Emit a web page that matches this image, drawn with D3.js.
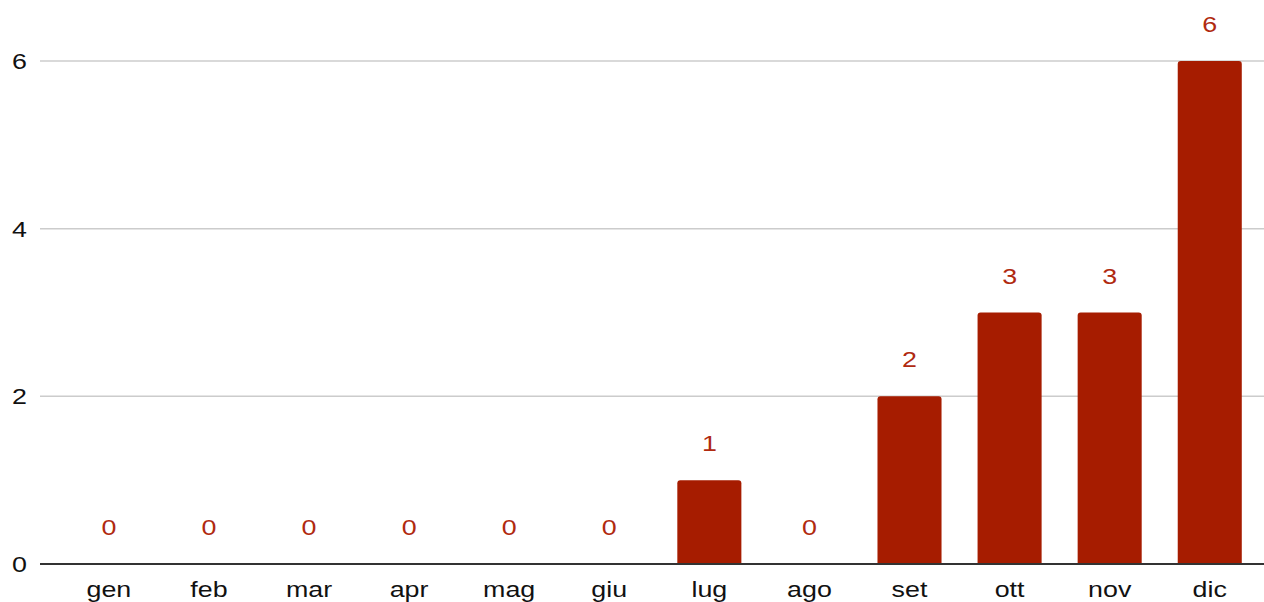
<!DOCTYPE html>
<html>
<head>
<meta charset="utf-8">
<script src="https://cdn.jsdelivr.net/npm/d3@7"></script>
<style>
	body { margin: 0; background: #fff; }
	svg { display: block; font-family: Arial, "Liberation Sans", sans-serif; }
</style>
</head>
<body>
<svg id="chart"></svg>
<script>
var months = ["gen", "feb", "mar", "apr", "mag", "giu", "lug", "ago", "set", "ott", "nov", "dic"];
var counts = [0, 0, 0, 0, 0, 0, 1, 0, 2, 3, 3, 6];
var yTicks = [0, 2, 4, 6];

var width = 1264, height = 602;
var color = "#a61c00";
// the text in the reference is stretched a bit horizontally
var stretch = 1.22;

var svg = d3.select("#chart")
	.attr("width", width)
	.attr("height", height);

var x = d3.scaleBand()
	.domain(months)
	.range([58.8, 1259.8])
	.paddingInner(0.36)
	.paddingOuter(0.18);

var y = d3.scaleLinear()
	.domain([0, 6])
	.range([564, 61]);

function place(px, py) {
	return "translate(" + px + "," + py + ") scale(" + stretch + ",1)";
}

// gridlines
svg.append("g")
	.selectAll("line")
	.data(yTicks.filter(function(d) { return d > 0; }))
	.join("line")
		.attr("x1", 40)
		.attr("x2", width)
		.attr("y1", function(d) { return y(d); })
		.attr("y2", function(d) { return y(d); })
		.style("stroke", "#cccccc")
		.style("stroke-width", "1.5px");

// y tick labels
svg.append("g")
	.selectAll("text")
	.data(yTicks)
	.join("text")
		.attr("transform", function(d) { return place(27, y(d)); })
		.attr("dy", "0.36em")
		.attr("text-anchor", "end")
		.style("font-size", "22px")
		.style("fill", "#111")
		.text(function(d) { return d; });

// bars with rounded top corners
var r = 3;
svg.append("g")
	.selectAll("path")
	.data(counts.map(function(v, i) { return { m: months[i], v: v }; }).filter(function(d) { return d.v > 0; }))
	.join("path")
		.attr("d", function(d) {
			var x0 = x(d.m), x1 = x0 + x.bandwidth(), y0 = y(0), y1 = y(d.v);
			return "M" + x0 + "," + y0 +
				"V" + (y1 + r) +
				"Q" + x0 + "," + y1 + " " + (x0 + r) + "," + y1 +
				"H" + (x1 - r) +
				"Q" + x1 + "," + y1 + " " + x1 + "," + (y1 + r) +
				"V" + y0 + "Z";
		})
		.style("fill", color);

// value labels
svg.append("g")
	.selectAll("text")
	.data(counts)
	.join("text")
		.attr("transform", function(d, i) { return place(x(months[i]) + x.bandwidth() / 2, y(d) - 29); })
		.attr("text-anchor", "middle")
		.style("font-size", "22px")
		.style("fill", "#b02a10")
		.text(function(d) { return d; });

// baseline
svg.append("line")
	.attr("x1", 40)
	.attr("x2", width)
	.attr("y1", y(0))
	.attr("y2", y(0))
	.style("stroke", "#333")
	.style("stroke-width", "2px");

// x labels
svg.append("g")
	.selectAll("text")
	.data(months)
	.join("text")
		.attr("transform", function(d) { return place(x(d) + x.bandwidth() / 2, 597); })
		.attr("text-anchor", "middle")
		.style("font-size", "22px")
		.style("fill", "#111")
		.text(function(d) { return d; });
</script>
</body>
</html>
